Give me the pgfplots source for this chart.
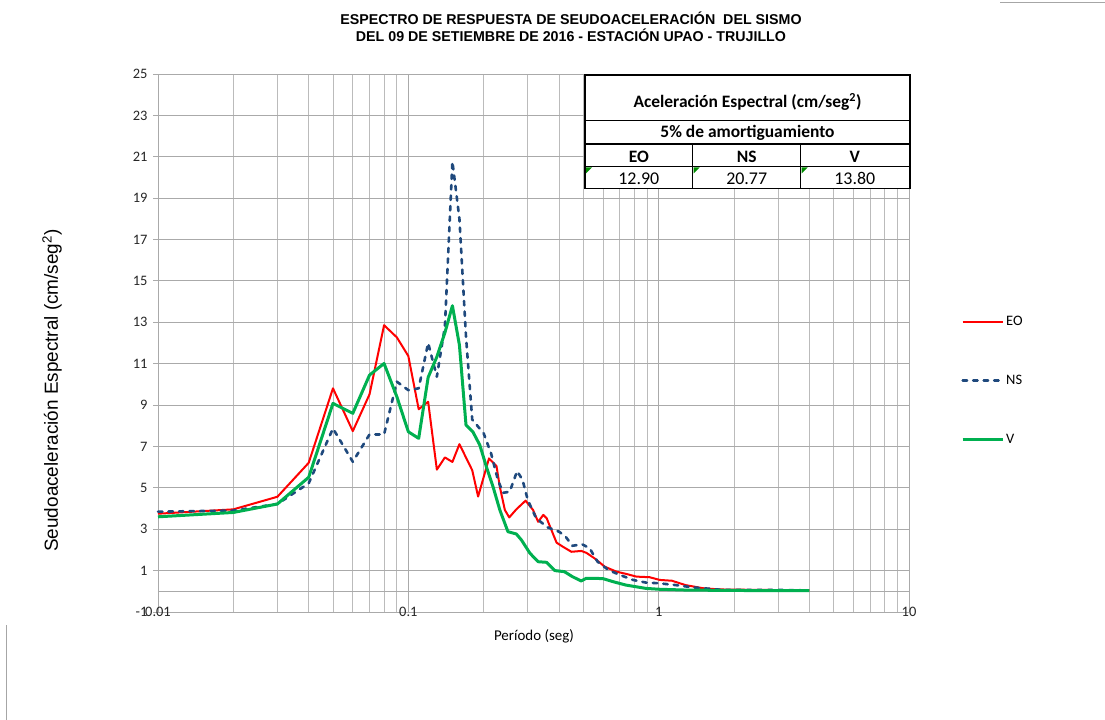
\documentclass[border=0pt]{standalone}
\usepackage{pgfplots}
\pgfplotsset{compat=1.18}
\usepackage{fontspec}
\setmainfont{Carlito}
\newfontfamily\arial{Liberation Sans}
\definecolor{eoc}{RGB}{255,0,0}
\definecolor{nsc}{RGB}{31,73,125}
\definecolor{vc}{RGB}{0,176,80}
\definecolor{gridc}{RGB}{170,170,170}
\definecolor{tri}{RGB}{0,140,0}

\pgfplotstableread{
x y
0.01 3.75
0.02 3.96
0.03 4.57
0.04 6.21
0.05 9.81
0.06 7.74
0.07 9.52
0.08 12.86
0.09 12.27
0.10 11.37
0.11 8.80
0.12 9.16
0.13 5.88
0.14 6.47
0.15 6.25
0.16 7.11
0.18 5.85
0.19 4.58
0.21 6.42
0.225 6.05
0.232 5.05
0.243 3.93
0.253 3.57
0.27 3.96
0.294 4.38
0.315 3.93
0.33 3.36
0.346 3.69
0.357 3.53
0.391 2.35
0.415 2.15
0.448 1.91
0.491 1.95
0.514 1.86
0.555 1.59
0.609 1.19
0.678 0.95
0.742 0.84
0.815 0.71
0.92 0.68
1.01 0.55
1.13 0.51
1.28 0.30
1.50 0.15
1.75 0.09
2.0 0.08
3.0 0.06
4.0 0.05
}\eotable

\pgfplotstableread{
x y
0.01 3.85
0.02 3.90
0.03 4.22
0.04 5.22
0.05 7.87
0.06 6.26
0.07 7.58
0.08 7.58
0.09 10.13
0.10 9.72
0.11 9.81
0.12 12.0
0.13 10.37
0.14 12.8
0.15 20.77
0.16 18.0
0.17 12.3
0.18 8.3
0.20 7.63
0.214 6.67
0.228 5.38
0.239 4.76
0.254 4.81
0.272 5.81
0.286 5.38
0.30 4.41
0.324 3.53
0.36 3.09
0.40 2.88
0.425 2.64
0.452 2.20
0.495 2.27
0.53 2.08
0.57 1.43
0.63 1.03
0.70 0.79
0.79 0.55
0.89 0.42
1.0 0.39
1.17 0.30
1.37 0.19
1.75 0.08
2.0 0.06
3.0 0.07
4.0 0.04
}\nstable

\pgfplotstableread{
x y
0.01 3.60
0.02 3.81
0.03 4.22
0.04 5.51
0.05 9.08
0.06 8.60
0.07 10.45
0.08 11.01
0.09 9.40
0.10 7.71
0.11 7.39
0.12 10.34
0.13 11.33
0.14 12.5
0.15 13.80
0.16 11.9
0.17 8.03
0.181 7.71
0.193 7.07
0.205 6.02
0.218 5.05
0.232 3.93
0.25 2.88
0.27 2.77
0.283 2.48
0.306 1.84
0.33 1.43
0.357 1.40
0.385 1.0
0.42 0.95
0.452 0.71
0.49 0.50
0.514 0.63
0.55 0.63
0.60 0.61
0.66 0.46
0.74 0.30
0.89 0.14
1.0 0.10
1.28 0.06
2.0 0.04
4.0 0.03
}\vtable

\begin{document}
\begin{tikzpicture}[x=1bp,y=1bp]
\useasboundingbox (0,0) rectangle (1105,720);
\begin{axis}[
  at={(158bp,108bp)}, anchor=south west,
  scale only axis, width=751bp, height=538bp,
  xmode=log, xmin=0.01, xmax=10, ymin=-1, ymax=25,
  xtick={0.01,0.1,1,10}, xticklabels={0.01,0.1,1,10},
  minor xtick={0.02,0.03,0.04,0.05,0.06,0.07,0.08,0.09,0.2,0.3,0.4,0.5,0.6,0.7,0.8,0.9,2,3,4,5,6,7,8,9},
  ytick={-1,1,3,5,7,9,11,13,15,17,19,21,23,25},
  yticklabels={-1,1,3,5,7,9,11,13,15,17,19,21,23,25},
  extra y ticks={0}, extra y tick labels={},
  extra y tick style={grid=major, major tick length=0pt},
  grid=both,
  major grid style={draw=gridc, line width=0.9bp},
  minor grid style={draw=gridc!80, line width=0.9bp},
  axis line style={draw=gridc, line width=0.9bp},
  axis x line*=bottom, axis y line*=left,
  tick align=outside,
  major tick length=5bp,
  xtick style={draw=none},
  ytick style={draw=gridc, line width=0.9bp},
  minor tick length=0pt,
  ticklabel style={font=\fontsize{14.5}{14.5}\selectfont, text=black!85},
  yticklabel style={xshift=-2bp},
  xticklabel style={anchor=center, yshift=5bp},
  legend style={at={(1.0692,0.4303)}, anchor=west, draw=none, fill=none,
    font=\fontsize{14.5}{17}\selectfont, row sep=44bp, inner sep=0pt,
    nodes={inner sep=2bp}},
  legend cell align=left,
  legend image code/.code={\draw[#1] (0bp,0bp) -- (40bp,0bp);},
  clip=false,
]
\addplot[eoc, line width=2bp, line join=round] table[x=x,y=y] {\eotable};
\addlegendentry{EO}
\addplot[nsc, line width=2.6bp, line cap=round, line join=round, dash pattern=on 4.4bp off 6.1bp] table[x=x,y=y] {\nstable};
\addlegendentry{NS}
\addplot[vc, line width=3bp, line join=round] table[x=x,y=y] {\vtable};
\addlegendentry{V}
\end{axis}

% titles
\node[font=\arial\bfseries\fontsize{14.3}{17}\selectfont, align=center] at (571,693.5)
  {ESPECTRO DE RESPUESTA DE SEUDOACELERACIÓN \ DEL SISMO\\DEL 09 DE SETIEMBRE DE 2016 - ESTACIÓN UPAO - TRUJILLO};
\node[font=\arial\fontsize{19}{19}\selectfont, rotate=90] at (52,329.5)
  {Seudoaceleración Espectral (cm/seg\textsuperscript{2})};
\node[font=\fontsize{15}{15}\selectfont] at (534,84) {Período (seg)};

% table
\begin{scope}[line width=1.3bp]
\fill[white] (585,645) rectangle (910,531.7);
\draw (585,645) rectangle (910,531.7);
\draw (585,599.3) -- (910,599.3);
\draw (585,576) -- (910,576);
\draw (585,553.3) -- (910,553.3);
\draw (692.7,576) -- (692.7,531.7);
\draw (800.7,576) -- (800.7,531.7);
\end{scope}
\node[font=\bfseries\fontsize{17.5}{17.5}\selectfont] at (747.5,617.7) {Aceleración Espectral (cm/seg\textsuperscript{2})};
\node[font=\bfseries\fontsize{17.5}{17.5}\selectfont] at (747.5,586.7) {5\% de amortiguamiento};
\node[font=\bfseries\fontsize{17.5}{17.5}\selectfont] at (638.8,562.7) {EO};
\node[font=\bfseries\fontsize{17.5}{17.5}\selectfont] at (746.7,562.7) {NS};
\node[font=\bfseries\fontsize{17.5}{17.5}\selectfont] at (854.8,562.7) {V};
\node[font=\fontsize{18}{18}\selectfont] at (638.8,541.7) {12.90};
\node[font=\fontsize{18}{18}\selectfont] at (746.7,541.7) {20.77};
\node[font=\fontsize{18}{18}\selectfont] at (854.8,541.7) {13.80};
\fill[tri] (586,552.6) -- (592,552.6) -- (586,546.6) -- cycle;
\fill[tri] (693.7,552.6) -- (699.7,552.6) -- (693.7,546.6) -- cycle;
\fill[tri] (801.7,552.6) -- (807.7,552.6) -- (801.7,546.6) -- cycle;

% partial frame lines
\draw[gray!70, line width=1bp] (6.5,0) -- (6.5,95);
\draw[gray!70, line width=1bp] (1000,717.5) -- (1105,717.5);
\end{tikzpicture}
\end{document}
